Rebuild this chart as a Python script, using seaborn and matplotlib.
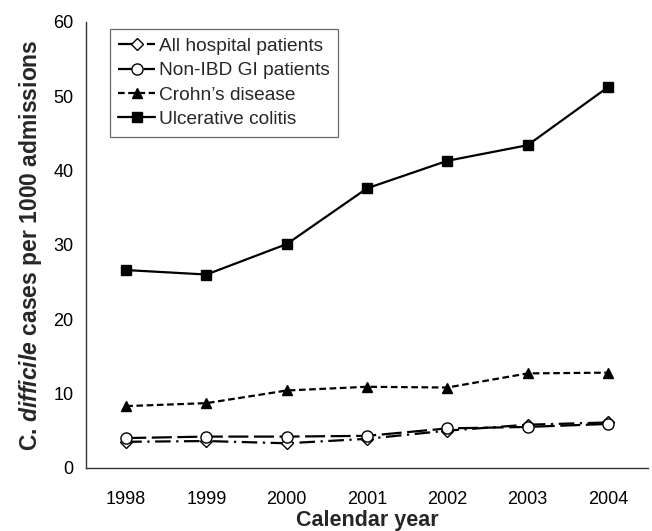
import matplotlib
matplotlib.use('Agg')
import matplotlib.pyplot as plt
import seaborn as sns
import pandas as pd
import numpy as np

years = ['1998', '1999', '2000', '2001', '2002', '2003', '2004']
all_hospital = [3.5, 3.6, 3.3, 3.9, 5.0, 5.8, 6.1]
non_ibd_gi = [4.0, 4.2, 4.2, 4.3, 5.3, 5.5, 5.9]
crohns = [8.3, 8.7, 10.4, 10.9, 10.8, 12.7, 12.8]
ulcerative_colitis = [26.6, 26.0, 30.1, 37.6, 41.3, 43.4, 51.2]

series = [
    ('All hospital patients', all_hospital, 'D', 'white', (7, 2.5, 1, 2.5), 6),
    ('Non-IBD GI patients', non_ibd_gi, 'o', 'white', (9, 2.5), 8),
    ('Crohn\u2019s disease', crohns, '^', 'black', (3, 1.6), 7),
    ('Ulcerative colitis', ulcerative_colitis, 's', 'black', None, 6.5),
]

sns.set_style('white')
plt.rcParams['font.family'] = ['Liberation Sans', 'DejaVu Sans']
plt.rcParams['mathtext.fontset'] = 'custom'
plt.rcParams['mathtext.rm'] = 'Liberation Sans:bold'
plt.rcParams['mathtext.it'] = 'Liberation Sans:bold:italic'

fig = plt.figure(figsize=(6.52, 5.31), dpi=100)
ax = fig.add_axes([0.132, 0.119, 0.862, 0.840])

x = np.arange(len(years))
for name, vals, marker, face, dash, ms in series:
    df = pd.DataFrame({'x': x, 'y': vals})
    kw = dict(color='black', lw=1.6, marker=marker, markersize=ms,
              markerfacecolor=face, markeredgecolor='black', markeredgewidth=1.0)
    sns.lineplot(data=df, x='x', y='y', ax=ax, label=name, **kw)
    if dash is not None:
        ax.lines[-1].set_dashes(dash)

ax.set_xlim(-0.5, len(years) - 0.5)
ax.set_ylim(0, 60)
ax.set_yticks(range(0, 61, 10))
ax.set_xticks(x)
ax.set_xticklabels(years)
ax.set_xticks(np.arange(0.5, len(years) - 1, 1), minor=True)
ax.tick_params(axis='x', which='major', length=0, pad=17, labelsize=13)
ax.tick_params(axis='x', which='minor', length=5, width=1, color='#333333', direction='out')
ax.tick_params(axis='y', length=5, width=1, color='#333333', direction='out', labelsize=13, pad=4)
ax.tick_params(axis='both', which='major', labelcolor='black')

for s in ['top', 'right']:
    ax.spines[s].set_visible(False)
for s in ['left', 'bottom']:
    ax.spines[s].set_color('#333333')
    ax.spines[s].set_linewidth(1.0)

ax.set_xlabel('Calendar year', fontsize=15.5, fontweight='bold', labelpad=1)
ax.set_ylabel(r'C. $\mathit{difficile}$ cases per 1000 admissions', fontsize=16.5,
              fontweight='bold', labelpad=7)

leg = ax.legend(loc='upper left', bbox_to_anchor=(0.025, 1.005), frameon=True,
                fontsize=13.8, handlelength=1.9, handletextpad=0.2,
                borderpad=0.45, labelspacing=0.36, fancybox=False)
leg.get_frame().set_edgecolor('#444444')
leg.get_frame().set_linewidth(0.9)

plt.savefig('out.png', dpi=100)
